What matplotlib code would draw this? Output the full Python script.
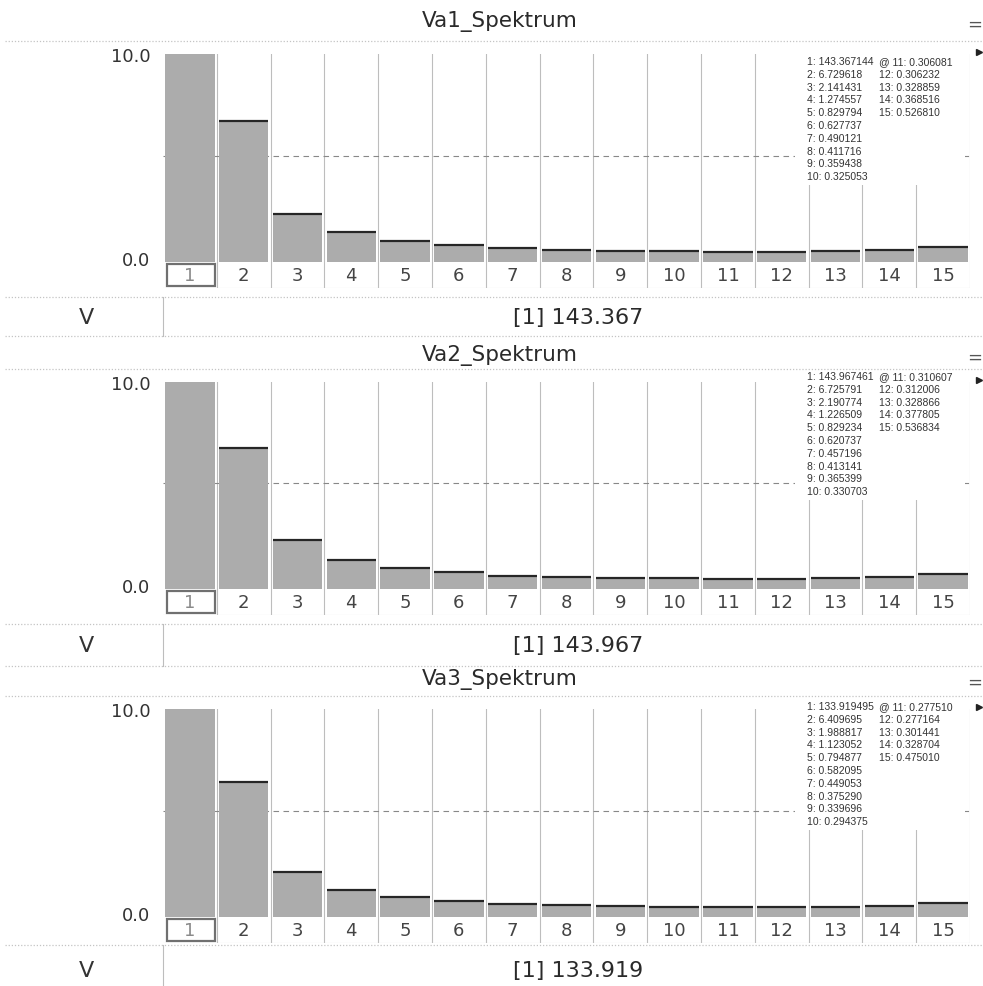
import numpy as np
import matplotlib
matplotlib.use("Agg")
import matplotlib.pyplot as plt
from matplotlib.patches import Rectangle
from matplotlib.lines import Line2D

# ---------------- data ----------------
harmonics = list(range(1, 16))
va1 = [143.367144, 6.729618, 2.141431, 1.274557, 0.829794, 0.627737, 0.490121,
       0.411716, 0.359438, 0.325053, 0.306081, 0.306232, 0.328859, 0.368516, 0.526810]
va2 = [143.967461, 6.725791, 2.190774, 1.226509, 0.829234, 0.620737, 0.457196,
       0.413141, 0.365399, 0.330703, 0.310607, 0.312006, 0.328866, 0.377805, 0.536834]
va3 = [133.919495, 6.409695, 1.988817, 1.123052, 0.794877, 0.582095, 0.449053,
       0.375290, 0.339696, 0.294375, 0.277510, 0.277164, 0.301441, 0.328704, 0.475010]
titles = ["Va1_Spektrum", "Va2_Spektrum", "Va3_Spektrum"]
series = [va1, va2, va3]
unit = "V"
y_min, y_max = -0.2, 10.0
ytick_vals = [0.0, 10.0]
ytick_labels = ["0.0", "10.0"]
ref_line = 5.0

# ---------------- layout (pixels) ----------------
W, H = 983, 987
panels = [
    dict(title=22, tline=42, top=55, bottom=263, sep1=298, vrow=318, sep2=337, leg=62),
    dict(title=355, tline=370, top=383, bottom=590, sep1=625, vrow=646, sep2=667, leg=377),
    dict(title=680, tline=697, top=710, bottom=918, sep1=946, vrow=971, sep2=None, leg=707),
]
X0, X1 = 163, 970
ROW_H = 26
leg_font = ["Liberation Sans", "DejaVu Sans"]
plt.rcParams["font.family"] = ["DejaVu Sans"]


def fx(x):
    return x / W


def fy(y):
    return 1 - y / H


def rect(x0, y0, x1, y1):
    return [fx(x0), fy(y1), (x1 - x0) / W, (y1 - y0) / H]


fig = plt.figure(figsize=(W / 100, H / 100), dpi=100)
fig.patch.set_facecolor("white")


def hline_px(y, x0=5, x1=983, color="#c4c4c4", ls=(0, (1, 1.5)), lw=0.9):
    fig.add_artist(Line2D([fx(x0), fx(x1)], [fy(y), fy(y)], transform=fig.transFigure,
                          color=color, lw=lw, ls=ls))


for p, title, vals in zip(panels, titles, series):
    vals = np.asarray(vals)
    h = np.asarray(harmonics)

    # title row
    fig.text(fx(500), fy(p["title"]), title, ha="center", va="center",
             fontsize=15.5, color="#2a2a2a")
    fig.text(fx(975), fy(p["title"] + 3), "=", ha="center", va="center",
             fontsize=13, color="#555555")
    hline_px(p["tline"])

    # main plot axes
    ax = fig.add_axes(rect(X0, p["top"], X1, p["bottom"]))
    ax.set_xlim(0.5, 15.5)
    ax.set_ylim(y_min, y_max)
    for s in ax.spines.values():
        s.set_visible(False)
    ax.set_xticks([])
    ax.set_yticks(ytick_vals)
    ax.set_yticklabels(ytick_labels, fontsize=13, color="#333333")
    ax.tick_params(axis="y", length=0, pad=9)

    for b in np.arange(1.5, 15.6, 1.0):
        ax.axvline(b, color="#bdbdbd", lw=0.8, zorder=1)
    ax.axhline(ref_line, color="#888888", lw=0.8, ls=(0, (5, 4)), zorder=1)

    ax.bar(h, vals - y_min, bottom=y_min, width=0.92, color="#acacac", zorder=2)
    ax.hlines(vals, h - 0.46, h + 0.46, color="#262626", lw=1.6, zorder=3)

    # legend box
    ly = p["leg"]
    ax.add_patch(Rectangle((fx(795), fy(ly + 124)), (965 - 795) / W, 132 / H,
                           transform=fig.transFigure, facecolor="white",
                           edgecolor="none", zorder=4, clip_on=False))
    for k in range(10):
        yy = fy(ly + k * 12.8)
        ax.text(fx(807), yy, f"{harmonics[k]}: {vals[k]:.6f}", transform=fig.transFigure,
                fontsize=7.5, family=leg_font, va="center", ha="left", color="#333333", zorder=5)
        if k < 5:
            j = k + 10
            pre = "@ " if k == 0 else ""
            ax.text(fx(879), yy, f"{pre}{harmonics[j]}: {vals[j]:.6f}", transform=fig.transFigure,
                    fontsize=7.5, family=leg_font, va="center", ha="left", color="#333333", zorder=5)

    # right marker
    fig.add_artist(Line2D([fx(979)], [fy(p["top"] - 2)], transform=fig.transFigure,
                          marker=">", markersize=5, color="#222222", lw=0))

    # label row
    ax2 = fig.add_axes(rect(X0, p["bottom"], X1, p["bottom"] + ROW_H))
    ax2.set_xlim(0.5, 15.5)
    ax2.set_ylim(0, 1)
    ax2.axis("off")
    for b in np.arange(1.5, 15.6, 1.0):
        ax2.axvline(b, color="#bdbdbd", lw=0.8)
    ax2.axhline(0.0, color="#d0d0d0", lw=0.8)
    for k in harmonics:
        ax2.text(k, 0.5, str(k), ha="center", va="center", fontsize=13,
                 color="#8a8a8a" if k == 1 else "#444444")
    ax2.add_patch(Rectangle((0.57, 0.08), 0.9, 0.86, facecolor="none",
                            edgecolor="#707070", lw=1.6))

    # value row
    hline_px(p["sep1"])
    if p["sep2"] is not None:
        hline_px(p["sep2"])
        ybot = p["sep2"]
    else:
        ybot = 987
    fig.add_artist(Line2D([fx(163), fx(163)], [fy(p["sep1"]), fy(ybot)],
                          transform=fig.transFigure, color="#bdbdbd", lw=0.8))
    fig.text(fx(86), fy(p["vrow"]), unit, ha="center", va="center",
             fontsize=16, color="#333333")
    fig.text(fx(578), fy(p["vrow"]), f"[1] {vals[0]:.3f}", ha="center", va="center",
             fontsize=16, color="#2a2a2a")

fig.savefig("out.png", dpi=100, facecolor="white")
